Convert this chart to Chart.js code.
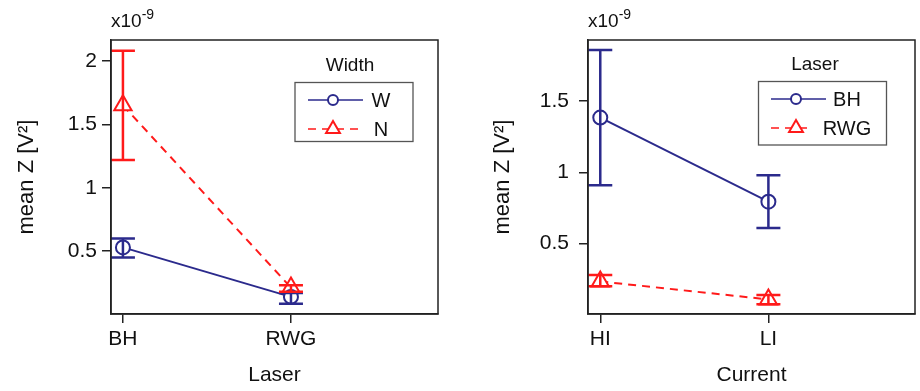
<!DOCTYPE html>
<html><head><meta charset="utf-8">
<script src="https://cdn.jsdelivr.net/npm/chart.js@4.4.1/dist/chart.umd.min.js"></script>
<style>
html,body{margin:0;padding:0;background:#fff;}
.wrap{position:relative;width:920px;height:391px;}
canvas{position:absolute;top:0;}
</style>
</head><body>
<div class="wrap">
<canvas id="c1" width="460" height="391" style="left:0"></canvas>
<canvas id="c2" width="460" height="391" style="left:460px"></canvas>
</div>
<script>
const FONT = "'Liberation Sans', Arial, sans-serif";

// ---- Left panel: Laser x Width (values in units of 1e-9 V^2) ----
const laserCategories = ['BH', 'RWG'];
const widthNames = ['W', 'N'];
const meanW = [0.53, 0.14];
const lowW = [0.45, 0.085];
const highW = [0.60, 0.17];
const meanN = [1.65, 0.213];
const lowN = [1.22, 0.18];
const highN = [2.08, 0.232];
const leftYTicks = [0.5, 1, 1.5, 2];

// ---- Right panel: Current x Laser ----
const currentCategories = ['HI', 'LI'];
const laserNames = ['BH', 'RWG'];
const meanBH = [1.385, 0.795];
const lowBH = [0.91, 0.61];
const highBH = [1.86, 0.98];
const meanRWG = [0.235, 0.108];
const lowRWG = [0.20, 0.075];
const highRWG = [0.28, 0.14];
const rightYTicks = [0.5, 1, 1.5];

const xPositions = [1, 2];

const BLUE = '#2b2a8c';
const RED = '#ff1a1a';
const INK = '#111';
const AXIS = '#222';

const errorBarPlugin = {
  id: 'errbars',
  afterDatasetsDraw(chart) {
    const ctx = chart.ctx;
    const xs = chart.scales.x, ys = chart.scales.y;
    chart.data.datasets.forEach((ds) => {
      ctx.save();
      ctx.strokeStyle = ds.borderColor;
      ctx.lineWidth = 2.5;
      ctx.setLineDash([]);
      ds.data.forEach((p, j) => {
        const x = xs.getPixelForValue(p.x);
        const y1 = ys.getPixelForValue(ds.low[j]);
        const y2 = ys.getPixelForValue(ds.high[j]);
        ctx.beginPath();
        ctx.moveTo(x, y1); ctx.lineTo(x, y2);
        ctx.moveTo(x - 12, y1); ctx.lineTo(x + 12, y1);
        ctx.moveTo(x - 12, y2); ctx.lineTo(x + 12, y2);
        ctx.stroke();
      });
      ctx.restore();
    });
  }
};

function drawMarker(ctx, style, x, y, r) {
  ctx.beginPath();
  if (style === 'circle') {
    ctx.arc(x, y, r, 0, Math.PI * 2);
  } else {
    ctx.moveTo(x, y - r);
    ctx.lineTo(x + r * Math.sqrt(3) / 2, y + r / 2);
    ctx.lineTo(x - r * Math.sqrt(3) / 2, y + r / 2);
    ctx.closePath();
  }
  ctx.fillStyle = '#fff';
  ctx.fill();
  ctx.stroke();
}

const framePlugin = {
  id: 'frame',
  afterDraw(chart, args, opts) {
    const ctx = chart.ctx;
    const a = chart.chartArea;
    ctx.save();
    ctx.strokeStyle = AXIS;
    ctx.lineWidth = 1.5;
    ctx.strokeRect(a.left, a.top, a.right - a.left, a.bottom - a.top);
    // exponent label
    ctx.fillStyle = INK;
    ctx.textBaseline = 'alphabetic';
    ctx.textAlign = 'left';
    ctx.font = '19px ' + FONT;
    ctx.fillText('x10', a.left, 27);
    const w = ctx.measureText('x10').width;
    ctx.font = '14px ' + FONT;
    ctx.fillText('-9', a.left + w, 19);
    // legend
    const L = opts.legend;
    ctx.strokeStyle = '#555';
    ctx.lineWidth = 1.3;
    ctx.strokeRect(L.x0, L.y0, L.x1 - L.x0, L.y1 - L.y0);
    ctx.font = '19px ' + FONT;
    ctx.textAlign = 'center';
    ctx.fillText(L.title, L.titleX, L.titleY);
    chart.data.datasets.forEach((ds, i) => {
      const y = L.rows[i];
      const dashed = ds.borderDash && ds.borderDash.length;
      ctx.save();
      ctx.strokeStyle = ds.borderColor;
      ctx.lineWidth = 1.3;
      ctx.setLineDash(ds.borderDash || []);
      ctx.beginPath();
      ctx.moveTo(L.lineX0, y); ctx.lineTo(dashed ? L.dashX1 : L.lineX1, y);
      ctx.stroke();
      ctx.setLineDash([]);
      ctx.lineWidth = 2;
      drawMarker(ctx, ds.pointStyle, L.markX, y, ds.pointStyle === 'circle' ? 5 : 8);
      ctx.restore();
      ctx.fillStyle = INK;
      ctx.font = '20px ' + FONT;
      ctx.textAlign = 'center';
      ctx.textBaseline = 'middle';
      ctx.fillText(ds.label, L.textX, y + 1);
    });
    ctx.restore();
  }
};

function fmt(v) { return String(Math.round(v * 10) / 10); }

function makeChart(id, cfg) {
  return new Chart(document.getElementById(id), {
    type: 'line',
    data: {
      datasets: cfg.series.map((s) => ({
        label: s.name,
        data: xPositions.map((x, j) => ({ x: x, y: s.mean[j] })),
        low: s.low, high: s.high,
        borderColor: s.color, backgroundColor: '#fff',
        borderWidth: 2, borderDash: s.dash,
        pointStyle: s.marker, pointRadius: s.r,
        pointBorderWidth: 2, pointBackgroundColor: '#fff', pointBorderColor: s.color,
        tension: 0, fill: false
      }))
    },
    options: {
      responsive: false, animation: false, devicePixelRatio: 1,
      layout: { autoPadding: false, padding: { left: 0, right: cfg.padRight, top: 40, bottom: 0 } },
      plugins: { legend: { display: false }, tooltip: { enabled: false }, frame: { legend: cfg.legend } },
      scales: {
        x: {
          type: 'linear', min: cfg.xMin, max: cfg.xMax,
          afterBuildTicks: (sc) => { sc.ticks = xPositions.map((v) => ({ value: v })); },
          afterFit: (sc) => { sc.height = 77; },
          ticks: {
            callback: (v) => cfg.categories[xPositions.indexOf(v)],
            font: { family: FONT, size: 21 }, color: INK, padding: 4, maxRotation: 0, autoSkip: false
          },
          grid: { drawOnChartArea: false, drawTicks: true, tickLength: 9, color: AXIS, lineWidth: 1.5 },
          border: { display: true, color: AXIS, width: 1.5 },
          title: { display: true, text: cfg.xTitle, font: { family: FONT, size: 21 }, color: INK, padding: { top: 0, bottom: 3 } }
        },
        y: {
          type: 'linear', min: cfg.yMin, max: cfg.yMax,
          afterBuildTicks: (sc) => { sc.ticks = cfg.yTicks.map((v) => ({ value: v })); },
          afterFit: (sc) => { sc.width = cfg.yWidth; },
          ticks: { callback: (v) => fmt(v), font: { family: FONT, size: 21 }, color: INK, padding: cfg.yTickPad, autoSkip: false },
          grid: { drawOnChartArea: false, drawTicks: true, tickLength: 9, color: AXIS, lineWidth: 1.5 },
          border: { display: true, color: AXIS, width: 1.5 },
          title: { display: true, text: 'mean Z [V²]', font: { family: FONT, size: 22 }, color: INK, padding: { top: cfg.yTitlePad, bottom: 0 } }
        }
      }
    },
    plugins: [errorBarPlugin, framePlugin]
  });
}

makeChart('c1', {
  categories: laserCategories, xTitle: 'Laser',
  xMin: 0.929, xMax: 2.875, yMin: 0.005, yMax: 2.165, yTicks: leftYTicks,
  yWidth: 111, padRight: 22, yTickPad: 5, yTitlePad: 14,
  series: [
    { name: widthNames[0], mean: meanW, low: lowW, high: highW, color: BLUE, dash: [], marker: 'circle', r: 7 },
    { name: widthNames[1], mean: meanN, low: lowN, high: highN, color: RED, dash: [8, 6], marker: 'triangle', r: 10 }
  ],
  legend: { x0: 295, y0: 82.5, x1: 413, y1: 141.5, title: 'Width', titleX: 350, titleY: 71,
            rows: [100, 129], lineX0: 308, lineX1: 363, dashX1: 363, markX: 333, textX: 381 }
});

makeChart('c2', {
  categories: currentCategories, xTitle: 'Current',
  xMin: 0.927, xMax: 2.872, yMin: 0.006, yMax: 1.93, yTicks: rightYTicks,
  yWidth: 128, padRight: 5, yTickPad: 10, yTitlePad: 30,
  series: [
    { name: laserNames[0], mean: meanBH, low: lowBH, high: highBH, color: BLUE, dash: [], marker: 'circle', r: 7 },
    { name: laserNames[1], mean: meanRWG, low: lowRWG, high: highRWG, color: RED, dash: [8, 6], marker: 'triangle', r: 10 }
  ],
  legend: { x0: 298.5, y0: 81.5, x1: 426.5, y1: 145, title: 'Laser', titleX: 355, titleY: 70,
            rows: [99, 128], lineX0: 311, lineX1: 366, dashX1: 352, markX: 336, textX: 387 }
});
</script>
</body></html>
